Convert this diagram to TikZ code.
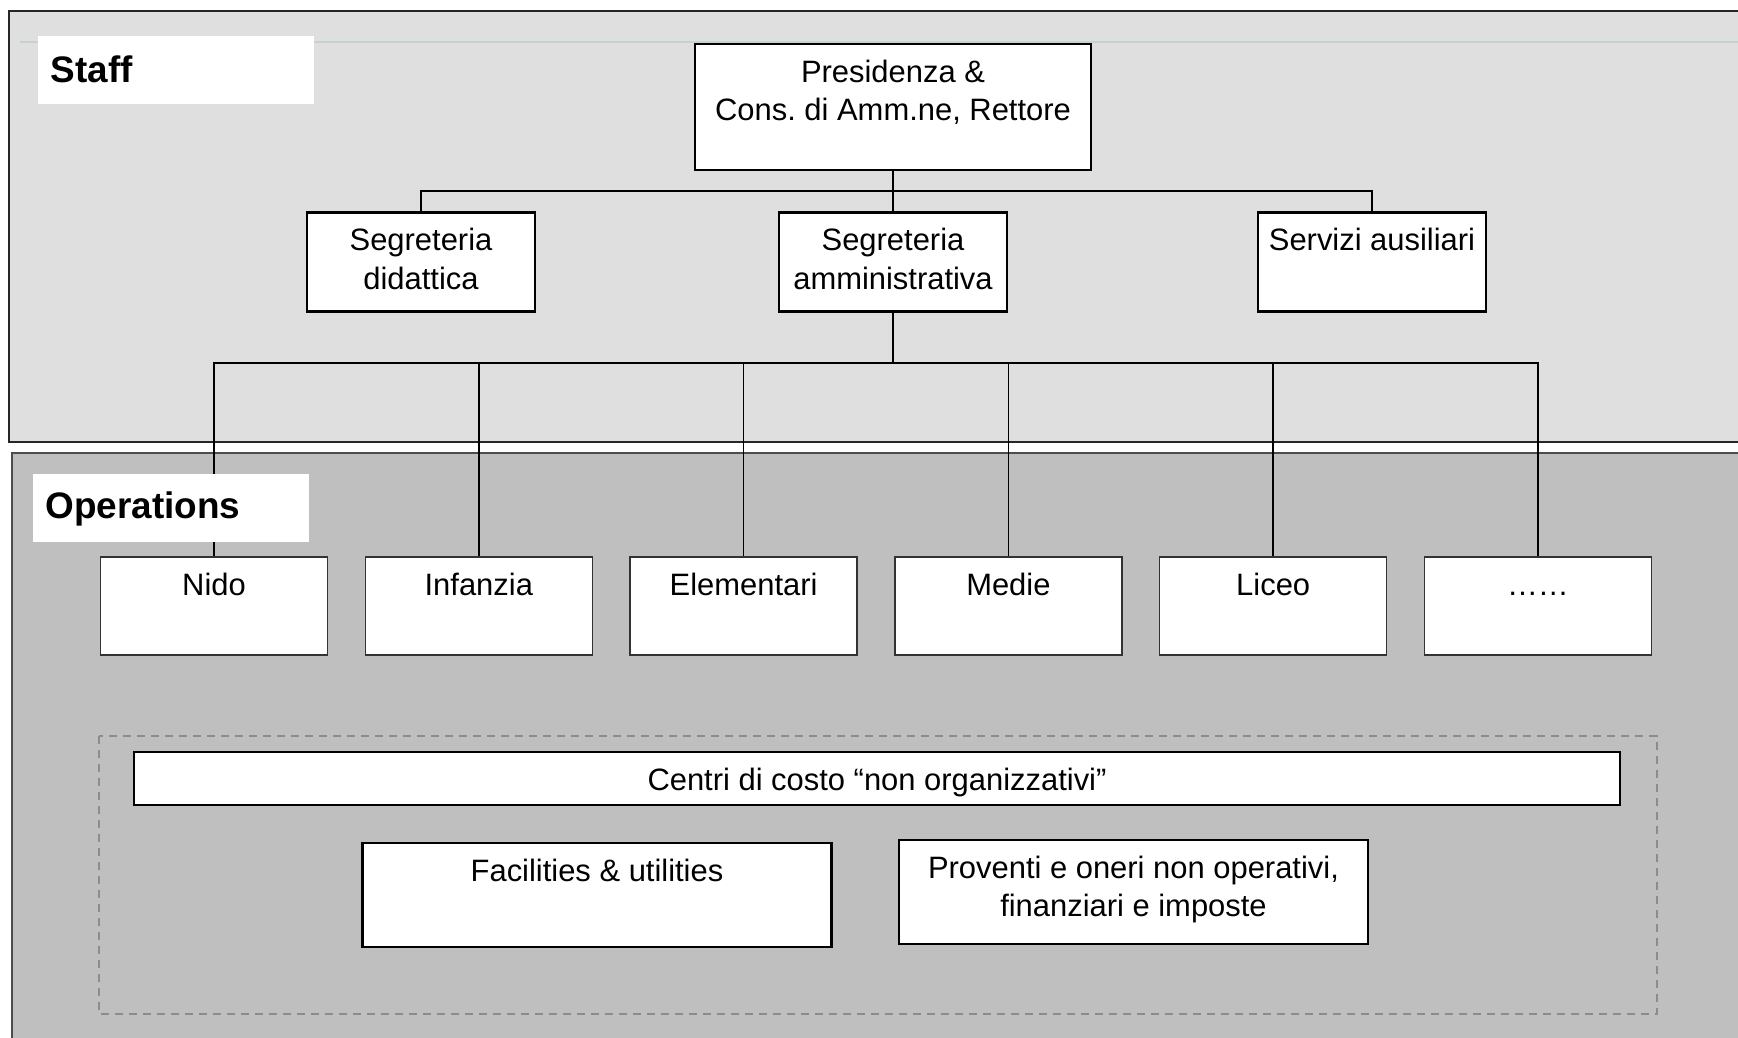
\documentclass[tikz,border=0pt]{standalone}
\usepackage{fontspec}
\setmainfont{Liberation Sans}
\usetikzlibrary{positioning}
\definecolor{staffgray}{HTML}{DFDFDF}
\definecolor{opsgray}{HTML}{BFBFBF}
\definecolor{rule}{HTML}{C5D2D2}
\tikzset{
	office/.style={draw, rectangle, line width=0.6pt, fill=white, inner sep=0pt, align=center, minimum width=22.8mm, minimum height=9.9mm, text height=3.8mm, text depth=6.1mm},
	head/.style={office, minimum width=39.6mm, minimum height=12.6mm, text depth=8.8mm},
	school/.style={office, line width=0.45pt, draw=black!80, minimum width=22.7mm, minimum height=9.8mm, text depth=6mm},
	cost/.style={office, minimum width=46.9mm, minimum height=10.4mm, text depth=6.6mm},
	bar/.style={office, minimum width=148.6mm, minimum height=5.3mm, text depth=1.5mm},
	% two lines of text: baseline is the last one
	twoline/.style={text height=7.67mm, text depth=#1},
	% white labels of the two areas
	tag/.style={fill=white, inner xsep=1.3mm, inner ysep=0pt, text width=25mm, minimum height=6.8mm, text height=4.7mm, text depth=2.1mm, font=\fontsize{10.5}{12}\selectfont\bfseries, align=left},
	wire/.style={line width=0.4pt, black},
}

\begin{document}
\frenchspacing
\begin{tikzpicture}[x=0.1mm, y=-0.1mm, font=\fontsize{8.8}{11}\selectfont]
	\clip (0,0) rectangle (1738,1038);
	
	% areas
	\draw[black!85, line width=0.5pt, fill=staffgray] (9,11) rectangle (1760,442);
	\draw[black!70, line width=0.6pt, fill=opsgray] (12,453) rectangle (1760,1060);
	\draw[rule, line width=0.35pt] (20,42) -- (1760,42);
	\node (stafftag) [tag, anchor=north west] at (37,35) {Staff};
	
	\node (pres) [head, twoline=4.93mm] at (893,107) {Presidenza \&\\Cons. di Amm.ne, Rettore};
	\node (sega) [office, twoline=2.23mm, below of=pres, yshift=-0.55cm] {Segreteria\\amministrativa};
	\node (segd) [office, twoline=2.23mm, left of=sega, xshift=-3.72cm] {Segreteria\\didattica};
	\node (serv) [office, right of=sega, xshift=3.79cm] {Servizi ausiliari};
	
	\node (nido) [school] at (214,606) {Nido};
	\node (infanzia) [school, right of=nido, xshift=1.648cm] {Infanzia};
	\node (elementari) [school, right of=infanzia, xshift=1.648cm] {Elementari};
	\node (medie) [school, right of=elementari, xshift=1.648cm] {Medie};
	\node (liceo) [school, right of=medie, xshift=1.648cm] {Liceo};
	\node (altri) [school, right of=liceo, xshift=1.648cm] {……};
	
	%\node (frame) [draw, dashed, fit=(centri) (facil) (prov)] {};
	\draw[black!45, line width=0.45pt, dash pattern=on 0.8mm off 0.6mm] (99,736) rectangle (1657,1014);
	\node (centri) [bar] at (877,778.5) {Centri di costo “non organizzativi”};
	\node (facil) [cost] at (597,895) {Facilities \& utilities};
	\node (prov) [cost, twoline=2.73mm] at (1133.5,892) {Proventi e oneri non operativi,\\finanziari e imposte};
	
	\coordinate (j1) at (893,191);
	\coordinate (j2) at (893,363);
	\begin{scope}[wire]
		\draw (pres) -- (sega);
		\draw (j1) -| (segd);
		\draw (j1) -| (serv);
		\draw (sega) -- (j2);
		\foreach \u in {nido, infanzia, elementari, medie, liceo, altri}
			\draw (j2) -| (\u);
	\end{scope}
	
	\node (opstag) [tag, anchor=north west, text height=4.5mm, text depth=2.3mm] at (32,473) {Operations};
\end{tikzpicture}
\end{document}
